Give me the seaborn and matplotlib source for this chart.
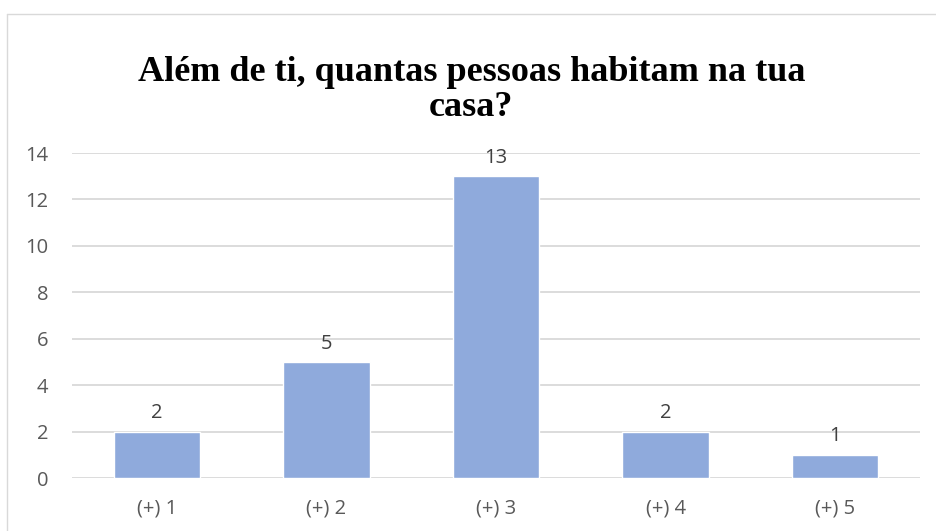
import matplotlib
matplotlib.use('Agg')
import seaborn as sns
import matplotlib.pyplot as plt
from matplotlib.lines import Line2D
import pandas as pd

sns.set_theme(style="white")
plt.rcParams['font.family'] = ['Open Sans', 'DejaVu Sans']

# data
categories = ["(+) 1", "(+) 2", "(+) 3", "(+) 4", "(+) 5"]
counts = [2, 5, 13, 2, 1]
title = "Além de ti, quantas pessoas habitam na tua\ncasa?"

data = pd.DataFrame({"Categoria": categories, "Valor": counts})

fig = plt.figure(figsize=(9.37, 5.31), dpi=100)
ax = fig.add_axes([72 / 937, 1 - 478 / 531, (920 - 72) / 937, (478 - 153) / 531])

sns.barplot(x="Categoria", y="Valor", data=data, color="#8FAADC",
            width=0.51, saturation=1, ax=ax, zorder=3)

ax.set_ylim(0, 14)
ax.set_yticks(range(0, 15, 2))
ax.set_xlim(-0.5, 4.5)
ax.yaxis.grid(True, color="#D9D9D9", linewidth=1.3, zorder=0)
ax.set_axisbelow(True)
for s in ax.spines.values():
    s.set_visible(False)
ax.set(xlabel="", ylabel="")
ax.tick_params(axis="y", length=0, pad=17, labelsize=14.5, labelcolor="#595959")
ax.tick_params(axis="x", length=0, pad=15, labelsize=14.5, labelcolor="#595959")

ax.bar_label(ax.containers[0], padding=6, fontsize=14.5, color="#404040")

fig.text(0.503, 0.83, title, ha="center", va="center",
         family="Liberation Serif", fontweight="bold", fontsize=26,
         linespacing=1.07, color="black")

# chart frame (left and top edges visible)
fig.add_artist(Line2D([7 / 937, 7 / 937], [0, 1 - 14 / 531], color="#D9D9D9",
                      linewidth=1, transform=fig.transFigure))
fig.add_artist(Line2D([7 / 937, 1], [1 - 14 / 531, 1 - 14 / 531], color="#D9D9D9",
                      linewidth=1, transform=fig.transFigure))

plt.savefig("out.png", dpi=100)
